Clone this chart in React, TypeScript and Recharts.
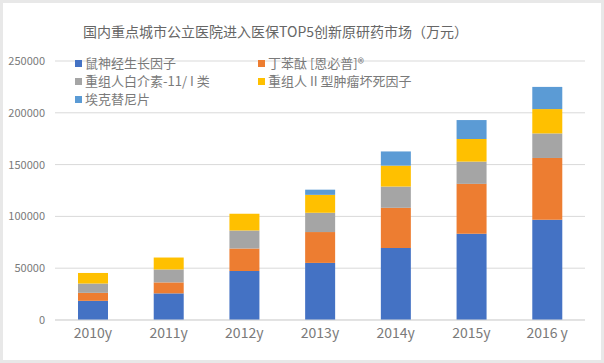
import { BarChart, Bar, XAxis, YAxis, CartesianGrid } from "recharts";

const years = ["2010y", "2011y", "2012y", "2013y", "2014y", "2015y", "2016 y"];
const ngf = [18500, 25700, 47400, 55100, 69500, 83300, 96800];
const butylphthalide = [7700, 10600, 21500, 29800, 38800, 48100, 59600];
const il11 = [9000, 12500, 17600, 18600, 20500, 21500, 23700];
const tnf = [10200, 11500, 16000, 17300, 20200, 21800, 23500];
const icotinib = [0, 0, 0, 5000, 13700, 18300, 21400];
const yTicks = [0, 50000, 100000, 150000, 200000, 250000];

const series = [
  { key: "ngf", name: "鼠神经生长因子", color: "#4472C4", values: ngf },
  { key: "nbp", name: "丁苯酞 [恩必普]®", color: "#ED7D31", values: butylphthalide },
  { key: "il11", name: "重组人白介素-11/ I 类", color: "#A5A5A5", values: il11 },
  { key: "tnf", name: "重组人 II 型肿瘤坏死因子", color: "#FFC000", values: tnf },
  { key: "ico", name: "埃克替尼片", color: "#5B9BD5", values: icotinib },
];

const data = years.map((year, i) => {
  const row: Record<string, string | number> = { year };
  series.forEach((s) => (row[s.key] = s.values[i]));
  return row;
});

const font = '"Noto Sans CJK SC", "Noto Sans", sans-serif';
const textColor = "#7a7a7a";

// legend drawn as html on top, so it doesn't take room from the plot
function LegendBox() {
  return (
    <div
      style={{
        position: "absolute",
        top: 55,
        left: 75,
        display: "grid",
        gridTemplateColumns: "183px 220px",
        rowGap: 2,
        fontFamily: font,
        fontSize: 13,
        color: textColor,
        lineHeight: "16px",
      }}
    >
      {series.map((s) => (
        <div key={s.key} style={{ display: "flex", alignItems: "center" }}>
          <span style={{ width: 7, height: 7, background: s.color, marginRight: 3 }} />
          {s.name}
        </div>
      ))}
    </div>
  );
}

export default function App() {
  return (
    <div style={{ position: "relative", width: 604, height: 363, background: "#fff" }}>
      <style>{"body{margin:0}"}</style>
      <div
        style={{
          position: "absolute",
          top: 21,
          left: 83,
          width: 354,
          textAlign: "center",
          fontFamily: font,
          fontSize: 14,
          color: "#666",
          whiteSpace: "nowrap",
        }}
      >
        国内重点城市公立医院进入医保TOP5创新原研药市场（万元）
      </div>
      <BarChart
        width={604}
        height={363}
        data={data}
        margin={{ top: 61, right: 19, left: 0, bottom: 13 }}
        style={{ position: "absolute", top: 0, left: 0 }}
      >
        <CartesianGrid vertical={false} stroke="#d9d9d9" />
        <XAxis
          dataKey="year"
          height={30}
          tickSize={0}
          tickMargin={8}
          axisLine={{ stroke: "#d9d9d9" }}
          tick={{ fontSize: 14, fill: textColor, fontFamily: font }}
        />
        <YAxis
          width={55}
          domain={[0, 250000]}
          ticks={yTicks}
          axisLine={false}
          tickSize={0}
          tickMargin={10}
          tick={{ fontSize: 11, fill: textColor, fontFamily: font }}
        />
        {series.map((s) => (
          <Bar
            key={s.key}
            dataKey={s.key}
            name={s.name}
            stackId="a"
            fill={s.color}
            barSize={30}
            isAnimationActive={false}
          />
        ))}
      </BarChart>
      <LegendBox />
      <div
        style={{
          position: "absolute",
          inset: 0,
          border: "3px solid #e8e8e8",
          pointerEvents: "none",
        }}
      />
    </div>
  );
}
